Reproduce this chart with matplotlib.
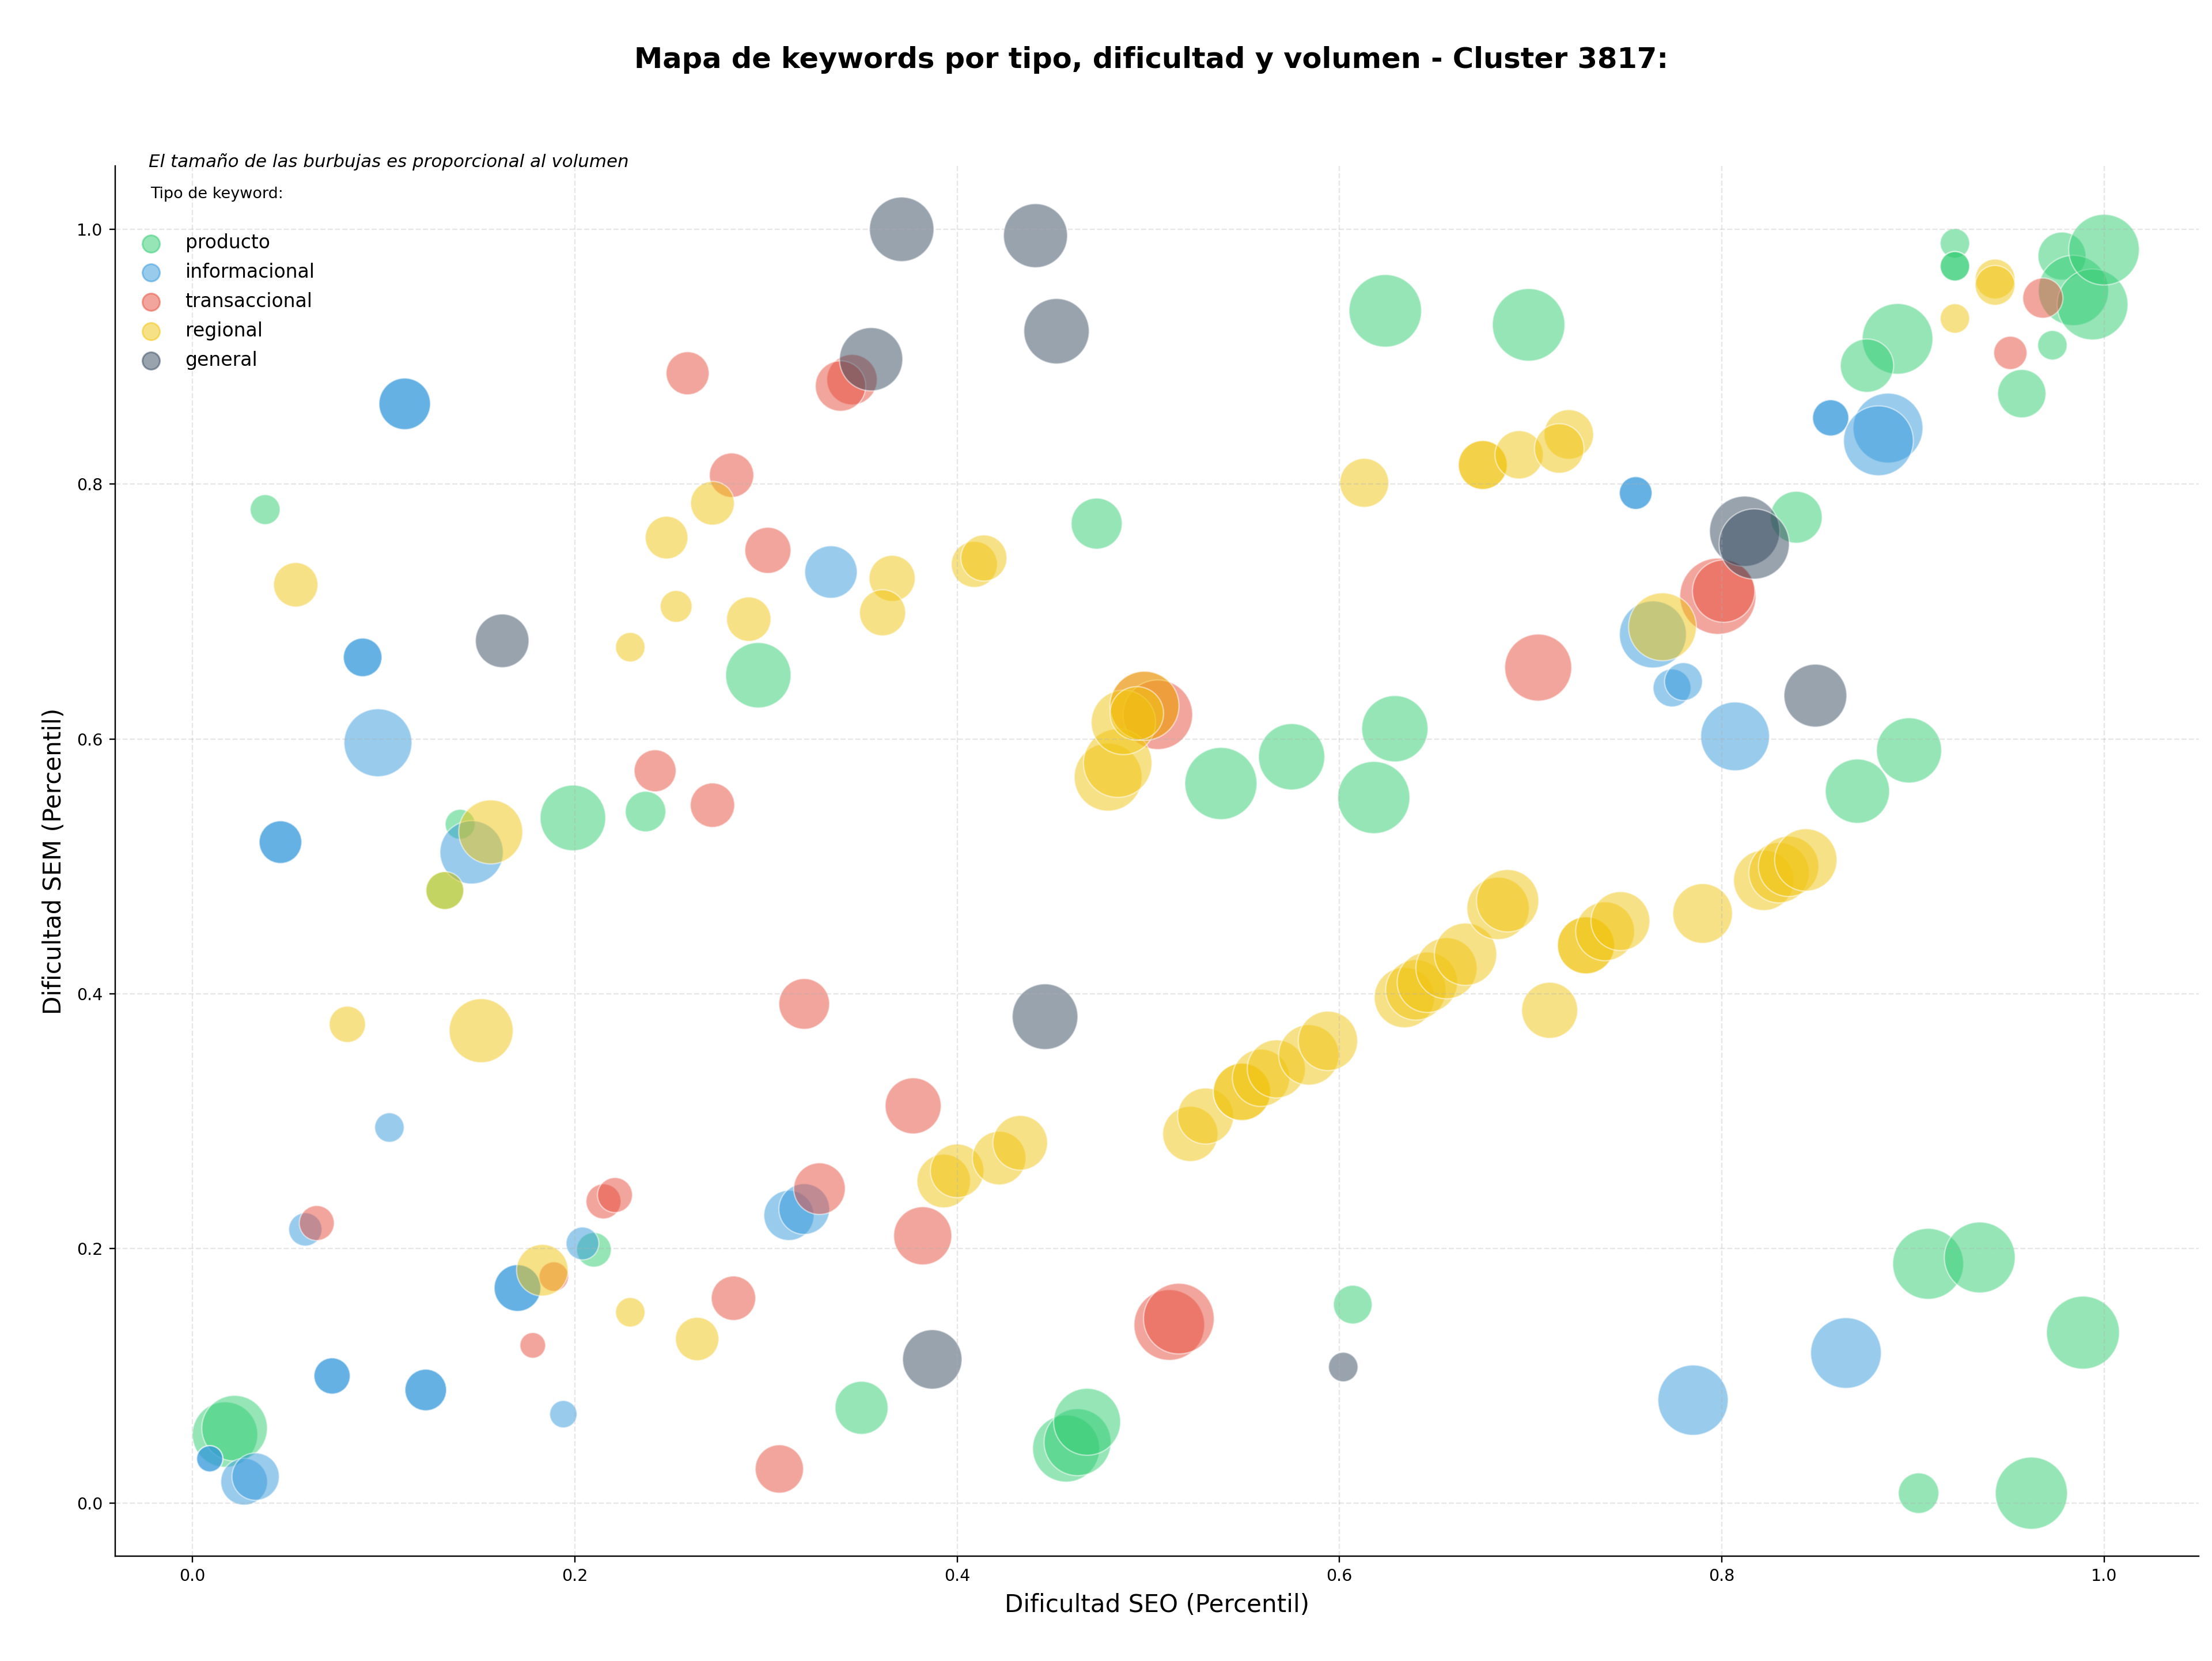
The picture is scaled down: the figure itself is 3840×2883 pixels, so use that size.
import numpy as np
import matplotlib.pyplot as plt

# Datos por tipo de keyword: dificultad SEO (x), dificultad SEM (y), volumen
prod_x = [0.038, 0.296, 0.473, 0.624, 0.699, 0.839, 0.892, 0.876, 0.922, 0.922,
          0.922, 0.973, 0.957, 0.978, 0.984, 0.994, 1.000, 0.199, 0.237, 0.140,
          0.132, 0.210, 0.350, 0.017, 0.022, 0.607, 0.457, 0.463, 0.468, 0.538,
          0.575, 0.629, 0.618, 0.898, 0.871, 0.908, 0.935, 0.989, 0.903, 0.962]
prod_y = [0.780, 0.650, 0.769, 0.936, 0.925, 0.774, 0.914, 0.893, 0.989, 0.971,
          0.971, 0.909, 0.871, 0.979, 0.952, 0.941, 0.984, 0.538, 0.543, 0.533,
          0.481, 0.199, 0.075, 0.054, 0.059, 0.156, 0.043, 0.048, 0.064, 0.565,
          0.586, 0.608, 0.554, 0.591, 0.559, 0.188, 0.193, 0.134, 0.008, 0.008]
prod_vol = [3000, 14300, 8700, 17600, 17600, 9000, 16700, 9500, 2900, 2900,
            2900, 2900, 7800, 7700, 16500, 16800, 16700, 14400, 5500, 3000,
            4800, 4000, 9400, 14300, 14400, 5000, 15000, 15000, 15000, 17400,
            14700, 14700, 17400, 14200, 13800, 16800, 16800, 17800, 5500, 17400]

info_x = [0.111, 0.111, 0.334, 0.089, 0.089, 0.755, 0.755, 0.764, 0.774, 0.780,
          0.807, 0.857, 0.857, 0.887, 0.882, 0.097, 0.046, 0.046, 0.146, 0.103,
          0.059, 0.204, 0.170, 0.170, 0.312, 0.320, 0.009, 0.009, 0.027, 0.033,
          0.073, 0.073, 0.122, 0.122, 0.194, 0.785, 0.865]
info_y = [0.863, 0.863, 0.731, 0.664, 0.664, 0.793, 0.793, 0.682, 0.640, 0.645,
          0.602, 0.852, 0.852, 0.844, 0.834, 0.597, 0.519, 0.519, 0.511, 0.295,
          0.215, 0.204, 0.169, 0.169, 0.226, 0.231, 0.035, 0.035, 0.017, 0.021,
          0.100, 0.100, 0.089, 0.089, 0.070, 0.081, 0.118]
info_vol = [8900, 8900, 9200, 5000, 5000, 3600, 3600, 15000, 4800, 4800,
            15800, 4400, 4400, 16300, 16300, 15400, 6100, 6100, 13400, 2900,
            3700, 3600, 7300, 7300, 8400, 8600, 2300, 2300, 7300, 7500,
            4400, 4400, 5800, 5800, 2500, 16500, 16700]

trans_x = [0.259, 0.282, 0.301, 0.345, 0.339, 0.704, 0.798, 0.801, 0.968, 0.951,
           0.242, 0.272, 0.320, 0.065, 0.215, 0.221, 0.189, 0.178, 0.283, 0.307,
           0.328, 0.377, 0.382, 0.511, 0.516, 0.498, 0.505]
trans_y = [0.887, 0.807, 0.748, 0.882, 0.877, 0.656, 0.712, 0.716, 0.946, 0.903,
           0.575, 0.548, 0.392, 0.220, 0.237, 0.242, 0.178, 0.124, 0.161, 0.027,
           0.247, 0.312, 0.210, 0.140, 0.145, 0.626, 0.619]
trans_vol = [6200, 6600, 7100, 8500, 8500, 15000, 19400, 13000, 5400, 3700,
             5900, 6600, 8600, 4100, 4100, 4100, 2900, 2200, 6600, 7800,
             8900, 10500, 11300, 16700, 16700, 16000, 16200]

reg_x = [0.272, 0.248, 0.054, 0.253, 0.291, 0.229, 0.366, 0.361, 0.409, 0.414,
         0.613, 0.675, 0.675, 0.694, 0.720, 0.715, 0.943, 0.943, 0.922, 0.769,
         0.156, 0.132, 0.081, 0.151, 0.183, 0.229, 0.264, 0.393, 0.400, 0.422,
         0.433, 0.479, 0.484, 0.487, 0.498, 0.494, 0.522, 0.530, 0.549, 0.549,
         0.559, 0.567, 0.584, 0.594, 0.634, 0.640, 0.646, 0.656, 0.666, 0.683,
         0.688, 0.710, 0.729, 0.729, 0.739, 0.747, 0.790, 0.822, 0.830, 0.835,
         0.844]
reg_y = [0.785, 0.758, 0.721, 0.704, 0.694, 0.672, 0.726, 0.699, 0.737, 0.742,
         0.801, 0.815, 0.815, 0.823, 0.839, 0.828, 0.961, 0.956, 0.930, 0.688,
         0.527, 0.481, 0.376, 0.371, 0.183, 0.150, 0.129, 0.253, 0.261, 0.271,
         0.283, 0.570, 0.581, 0.613, 0.626, 0.620, 0.290, 0.304, 0.323, 0.323,
         0.334, 0.341, 0.352, 0.363, 0.397, 0.403, 0.409, 0.420, 0.431, 0.467,
         0.473, 0.387, 0.438, 0.438, 0.449, 0.457, 0.463, 0.489, 0.495, 0.500,
         0.505]
reg_vol = [6400, 6100, 6600, 3400, 6600, 2900, 7100, 7100, 7100, 7100,
           8000, 8000, 8000, 7800, 8200, 8200, 5300, 5300, 2900, 15400,
           13700, 4800, 4400, 13700, 8900, 2900, 6300, 9600, 9600, 9600,
           10000, 15400, 15700, 13900, 16000, 9600, 10200, 10500, 11000, 11000,
           11000, 11300, 12200, 11800, 12200, 12200, 12200, 12500, 13000, 13000,
           13000, 10500, 10900, 10900, 11600, 11600, 11900, 12200, 12200, 12200,
           13000]

gen_x = [0.371, 0.441, 0.452, 0.355, 0.162, 0.812, 0.817, 0.849, 0.446, 0.387, 0.602]
gen_y = [1.000, 0.995, 0.920, 0.898, 0.677, 0.763, 0.753, 0.634, 0.382, 0.113, 0.107]
gen_vol = [13900, 13700, 14300, 13400, 9600, 16500, 16500, 13200, 14400, 11800, 2900]

tipos = ['producto', 'informacional', 'transaccional', 'regional', 'general']
colores = ['#2ecc71', '#3498db', '#e74c3c', '#f1c40f', '#34495e']
series = [(prod_x, prod_y, prod_vol), (info_x, info_y, info_vol),
          (trans_x, trans_y, trans_vol), (reg_x, reg_y, reg_vol),
          (gen_x, gen_y, gen_vol)]

fig, ax = plt.subplots(figsize=(3840 / 216, 2883 / 216))
fig.subplots_adjust(left=0.052, right=0.994, bottom=0.063, top=0.9)

# Burbujas: tamaño proporcional al volumen
for (x, y, vol), color in zip(series, colores):
    ax.scatter(x, y, s=np.array(vol) / 10, c=color, alpha=0.5,
               edgecolors='white', linewidths=0.8)

# Leyenda con marcadores de tamaño fijo
handles = [ax.scatter([], [], s=100, c=color, alpha=0.5, label=tipo)
           for tipo, color in zip(tipos, colores)]
ax.legend(handles=handles, loc='upper left', bbox_to_anchor=(0.0045, 0.957),
          borderaxespad=0, frameon=False, fontsize=11, labelspacing=0.54)
ax.text(0.0169, 0.9797, 'Tipo de keyword:', transform=ax.transAxes,
        fontsize=9, va='center', ha='left')
ax.text(0.0162, 1.003, 'El tamaño de las burbujas es proporcional al volumen',
        transform=ax.transAxes, fontsize=10.3, style='italic', va='center', ha='left')

ax.set_xlabel('Dificultad SEO (Percentil)', fontsize=14, labelpad=5)
ax.set_ylabel('Dificultad SEM (Percentil)', fontsize=14, labelpad=6)
ax.tick_params(labelsize=9.5)
ax.grid(True, linestyle='--', alpha=0.3)
ax.spines['top'].set_visible(False)
ax.spines['right'].set_visible(False)

fig.suptitle('Mapa de keywords por tipo, dificultad y volumen - Cluster 3817:',
             fontsize=16.5, fontweight='bold', x=0.5204, y=0.964, va='center')

fig.savefig('out.png', dpi=216)
